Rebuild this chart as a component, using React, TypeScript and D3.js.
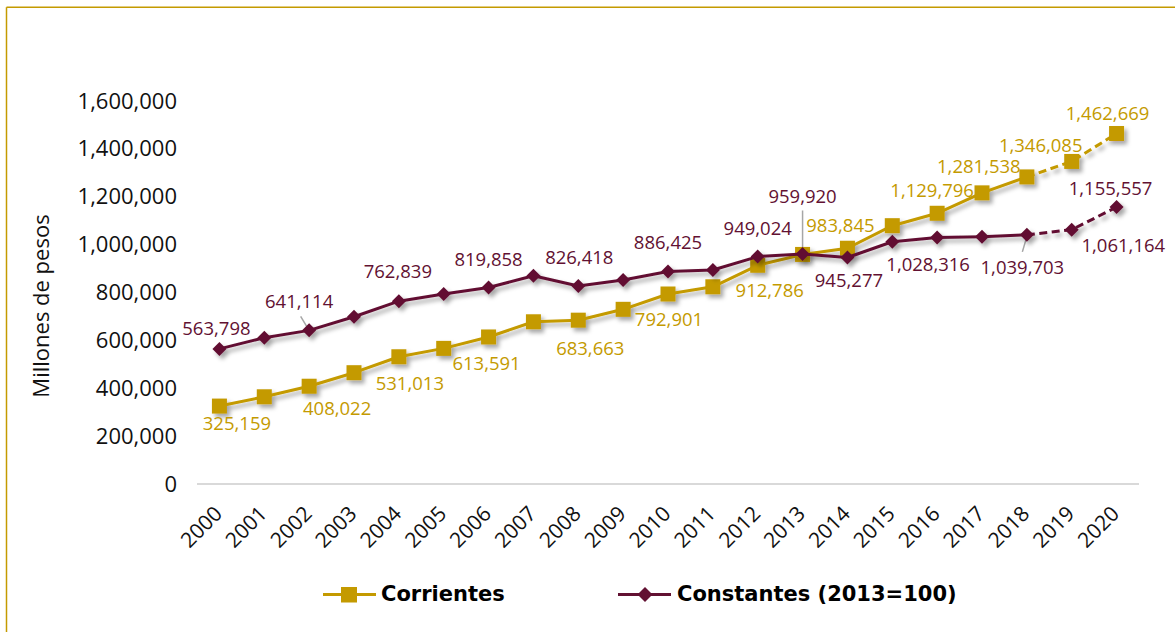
import React from "react";
import * as d3 from "d3";

const years = ["2000","2001","2002","2003","2004","2005","2006","2007","2008","2009","2010","2011","2012","2013","2014","2015","2016","2017","2018","2019","2020"];
const corrientes = [325159, 364000, 408022, 464500, 531013, 566000, 613591, 677000, 683663, 729000, 792901, 823000, 912786, 958000, 983845, 1078000, 1129796, 1215000, 1281538, 1346085, 1462669];
const constantes = [563798, 610600, 641114, 698000, 762839, 793000, 819858, 869000, 826418, 851000, 886425, 893000, 949024, 959920, 945277, 1011000, 1028316, 1032000, 1039703, 1061164, 1155557];
const yTicks = [0, 200000, 400000, 600000, 800000, 1000000, 1200000, 1400000, 1600000];
const seriesNames = ["Corrientes", "Constantes (2013=100)"];
const yTitle = "Millones de pesos";
const dashFrom = 18; // projected segment starts at 2018

// label placement (offsets from the point, px)
const corrLabelLayout = [
  { i: 0, dx: 17.5, dy: 17 },
  { i: 2, dx: 28, dy: 22 },
  { i: 4, dx: 11, dy: 27 },
  { i: 6, dx: -2, dy: 26 },
  { i: 8, dx: 12, dy: 28 },
  { i: 10, dx: 1, dy: 25 },
  { i: 12, dx: 12, dy: 25 },
  { i: 14, dx: -7, dy: -23 },
  { i: 16, dx: -5, dy: -23 },
  { i: 18, dx: -48, dy: -11 },
  { i: 19, dx: -31, dy: -16 },
  { i: 20, dx: -9, dy: -20 },
];
const constLabelLayout = [
  { i: 0, dx: -3, dy: -21 },
  { i: 2, dx: -10, dy: -29, leader: [-8.5, -14, -1, -1.5] },
  { i: 4, dx: -1, dy: -29.5 },
  { i: 6, dx: 0, dy: -28.6 },
  { i: 8, dx: 1, dy: -29 },
  { i: 10, dx: 0, dy: -29 },
  { i: 12, dx: 0, dy: -28 },
  { i: 13, dx: 0, dy: -58, leader: [0, -43.5, 0, 0] },
  { i: 14, dx: 1.5, dy: 23 },
  { i: 16, dx: -9, dy: 27 },
  { i: 18, dx: -4.5, dy: 32, leader: [-4.5, 17, 0.5, 0] },
  { i: 19, dx: 51.6, dy: 16 },
  { i: 20, dx: -6, dy: -19 },
];

const GOLD = "#C49A00";
const MAROON = "#621132";
const FONT = "'Open Sans', sans-serif";
const BOLD_FONT = "'DejaVu Sans', sans-serif";

export default function App() {
  const W = 1175, H = 632;
  const x = d3.scalePoint<string>().domain(years).range([197, 1139]).padding(0.5);
  const y = d3.scaleLinear().domain([0, 1600000]).range([484, 100.6]);
  const fmt = d3.format(",");

  const line = d3.line<number>().x((_, i) => 0).y(() => 0);
  const mkPath = (vals: number[], from: number, to: number) =>
    d3.line<[string, number]>()
      .x((d) => x(d[0]) as number)
      .y((d) => y(d[1]))(years.slice(from, to + 1).map((yr, k) => [yr, vals[from + k]] as [string, number])) || "";
  void line;

  const diamond = (cx: number, cy: number, r: number) =>
    `M${cx},${cy - r}L${cx + r},${cy}L${cx},${cy + r}L${cx - r},${cy}Z`;

  return (
    <svg width={W} height={H} style={{ position: "absolute", left: 0, top: 0, display: "block", background: "#fff" }}>
      <defs>
        <filter id="sh" x="-20%" y="-20%" width="140%" height="160%">
          <feDropShadow dx="3" dy="3.5" stdDeviation="2" floodColor="#000" floodOpacity="0.35" />
        </filter>
      </defs>
      {/* frame */}
      <line x1={6.5} y1={7.3} x2={W} y2={7.3} stroke={GOLD} strokeWidth={1.5} />
      <line x1={6.5} y1={7.3} x2={6.5} y2={H} stroke={GOLD} strokeWidth={1.5} />

      {/* y axis labels */}
      {yTicks.map((t) => (
        <text key={t} x={177} y={y(t)} dy="0.36em" textAnchor="end" fontFamily={FONT} fontSize={22} fill="#111">
          {fmt(t)}
        </text>
      ))}
      <text transform={`translate(49,306) rotate(-90)`} textAnchor="middle" fontFamily={FONT} fontSize={22} fill="#111">
        {yTitle}
      </text>

      {/* baseline */}
      <line x1={197} x2={1139} y1={484} y2={484} stroke="#d9d9d9" strokeWidth={2} />

      {/* x labels */}
      {years.map((yr) => (
        <text key={yr} transform={`translate(${(x(yr) as number) + 4},515) rotate(-45)`} textAnchor="end"
          fontFamily={FONT} fontSize={21} fill="#111">
          {yr}
        </text>
      ))}

      {/* leader lines */}
      {constLabelLayout.filter((l) => l.leader).map((l) => {
        const px = x(years[l.i]) as number, py = y(constantes[l.i]);
        const [a, b, c, d] = l.leader as number[];
        return <line key={"ld" + l.i} x1={px + a} y1={py + b} x2={px + c} y2={py + d} stroke="#a6a6a6" strokeWidth={1.5} />;
      })}

      {/* series */}
      <g filter="url(#sh)">
        <path d={mkPath(corrientes, 0, dashFrom)} fill="none" stroke={GOLD} strokeWidth={3} strokeLinejoin="round" />
        <path d={mkPath(corrientes, dashFrom, years.length - 1)} fill="none" stroke={GOLD} strokeWidth={3} strokeDasharray="8,4.5" />
        {corrientes.map((v, i) => (
          <rect key={"s" + i} x={(x(years[i]) as number) - 7.5} y={y(v) - 7.5} width={15} height={15} fill={GOLD} />
        ))}
      </g>
      <g filter="url(#sh)">
        <path d={mkPath(constantes, 0, dashFrom)} fill="none" stroke={MAROON} strokeWidth={3} strokeLinejoin="round" />
        <path d={mkPath(constantes, dashFrom, years.length - 1)} fill="none" stroke={MAROON} strokeWidth={3} strokeDasharray="8,4.5" />
        {constantes.map((v, i) => (
          <path key={"d" + i} d={diamond(x(years[i]) as number, y(v), 7)} fill={MAROON} />
        ))}
      </g>

      {/* data labels */}
      {corrLabelLayout.map((l) => (
        <text key={"cl" + l.i} x={(x(years[l.i]) as number) + l.dx} y={y(corrientes[l.i]) + l.dy} dy="0.36em"
          textAnchor="middle" fontFamily={FONT} fontSize={18.5} fill={GOLD}>
          {fmt(corrientes[l.i])}
        </text>
      ))}
      {constLabelLayout.map((l) => (
        <text key={"kl" + l.i} x={(x(years[l.i]) as number) + l.dx} y={y(constantes[l.i]) + l.dy} dy="0.36em"
          textAnchor="middle" fontFamily={FONT} fontSize={18.5} fill={MAROON}>
          {fmt(constantes[l.i])}
        </text>
      ))}

      {/* legend */}
      <g>
        <line x1={323} x2={376} y1={594.5} y2={594.5} stroke={GOLD} strokeWidth={3} />
        <rect x={341} y={587} width={16} height={15.5} fill={GOLD} />
        <text x={381} y={601} fontFamily={BOLD_FONT} fontWeight="bold" fontSize={21} fill="#000">{seriesNames[0]}</text>
        <line x1={618} x2={671} y1={594.5} y2={594.5} stroke={MAROON} strokeWidth={3} />
        <path d={diamond(645, 594.5, 7.5)} fill={MAROON} />
        <text x={677} y={601} fontFamily={BOLD_FONT} fontWeight="bold" fontSize={21} fill="#000">{seriesNames[1]}</text>
      </g>
    </svg>
  );
}
